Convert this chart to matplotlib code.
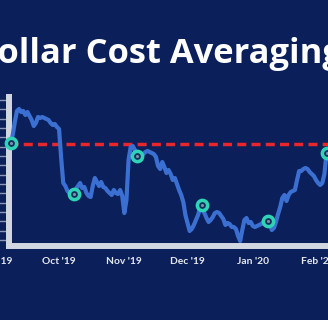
import numpy as np
import matplotlib
matplotlib.use("Agg")
import matplotlib.pyplot as plt
import matplotlib.transforms as mtransforms

# days counted from 1 Sep 2019
days = [7, 8, 9, 10, 11, 12, 13, 14, 15, 16, 17, 18, 19, 20, 21, 22, 23, 24, 25, 26,
        27, 28, 29, 30, 31, 32, 33, 34, 35, 36, 37, 38, 39, 40, 41, 42, 43, 44, 45, 46,
        47, 48, 49, 50, 51, 52, 53, 54, 55, 56, 57, 58, 59, 60, 61, 62, 63, 64, 65, 66,
        67, 68, 69, 70, 71, 72, 73, 74, 75, 76, 77, 78, 79, 80, 81, 82, 83, 84, 85, 86,
        87, 88, 89, 90, 91, 92, 93, 94, 95, 96, 97, 98, 99, 100, 101, 102, 103, 104, 105, 106,
        107, 108, 109, 110, 111, 112, 113, 114, 115, 116, 117, 118, 119, 120, 121, 122, 123, 124, 125, 126,
        127, 128, 129, 130, 131, 132, 133, 134, 135, 136, 137, 138, 139, 140, 141, 142, 143, 144, 145, 146,
        147, 148, 149, 150, 151, 152, 153, 154, 155, 156, 157, 158, 159]
price = [40.1, 40.9, 42.2, 43.3, 43.5, 43.2, 43.3, 42.9, 43.2, 42.8, 42.4, 41.8, 42.1, 42.7, 42.6, 42.7, 42.6, 42.5, 42.4, 42.1,
         41.9, 42.0, 41.7, 41.5, 38.6, 36.1, 35.8, 35.3, 35.1, 35.0, 35.0, 35.5, 35.8, 36.1, 35.6, 35.7, 35.1, 34.8, 34.7, 35.8,
         36.6, 36.2, 35.8, 36.2, 35.7, 35.6, 35.3, 35.1, 34.9, 35.4, 35.1, 35.0, 35.4, 34.8, 33.1, 34.4, 38.4, 39.7, 39.8, 39.4,
         38.8, 38.7, 38.9, 39.0, 39.2, 39.3, 39.2, 39.1, 39.0, 38.7, 37.8, 37.5, 38.2, 37.7, 37.1, 37.4, 37.0, 36.4, 36.6, 36.0,
         35.4, 34.9, 34.2, 32.9, 32.1, 31.3, 31.5, 31.9, 32.4, 32.9, 33.6, 33.9, 33.1, 32.6, 32.2, 32.4, 32.7, 33.1, 33.2, 33.1,
         32.8, 32.5, 31.9, 32.1, 32.0, 31.7, 31.7, 31.5, 30.8, 30.3, 31.4, 32.4, 32.6, 32.1, 32.2, 31.8, 31.7, 31.8, 31.9, 32.0,
         32.2, 32.3, 32.3, 32.1, 31.4, 31.6, 32.2, 33.0, 33.7, 34.6, 34.9, 34.3, 34.9, 35.2, 35.3, 35.4, 36.4, 37.3, 37.3, 37.5,
         37.6, 37.5, 37.2, 37.0, 36.8, 36.4, 36.1, 35.9, 36.1, 37.0, 39.1, 39.3, 39.6]

buy_days = [7, 37, 67, 98, 129, 157]
avg_cost = 40.0

month_days = [0, 30, 61, 91, 122, 153]
month_labels = ["Sep '19", "Oct '19", "Nov '19", "Dec '19", "Jan '20", "Feb '20"]

navy = '#0b1f5a'
W, H = 328, 320

fig = plt.figure(figsize=(W / 100, H / 100), dpi=100, facecolor=navy)
ax = fig.add_axes([8.5 / W, (H - 245.5) / H, (W - 8.5) / W, (245.5 - 97) / H])
ax.set_facecolor(navy)

ax.plot(days, price, color='#3b70d2', lw=3.0, solid_joinstyle='round', zorder=3)
ax.axhline(avg_cost, color='#e8262c', lw=2.5, dashes=(2.6, 1.5), zorder=2)

buy_price = [price[days.index(d)] for d in buy_days]
ax.plot(buy_days, buy_price, 'o', ms=7.4, mfc='#123060', mec='#2fd3b6', mew=2.5, zorder=4, clip_on=False)
ax.plot(buy_days, buy_price, 'o', ms=2.2, mfc='#7f93a3', mec='none', zorder=5, clip_on=False)

for s in ['top', 'right']:
    ax.spines[s].set_visible(False)
for s in ['left', 'bottom']:
    ax.spines[s].set_color('#d2d6e0')
    ax.spines[s].set_linewidth(4.3)
    ax.spines[s].set_capstyle('projecting')

ax.set_xticks([])
ax.set_yticks(np.linspace(30.4, 44.4, 16))
ax.set_yticklabels([])
ax.tick_params(axis='y', length=7, width=1, color='#8c97b8', direction='out')

ax.set_xlim(6, 157.7)
ax.set_ylim(29.85, 44.7)

# month labels drawn by hand so the cut-off Sep label still shows
trans = mtransforms.blended_transform_factory(ax.transData, ax.transAxes)
for d, lab in zip(month_days, month_labels):
    ax.text(d, -15.5 / 148.5, lab, transform=trans, ha='center', va='center',
            fontfamily='Lato', fontweight='bold', fontsize=7.4, color='#e6e9f0', clip_on=False)

title = "Dollar Cost Averaging"
r = fig.canvas.get_renderer()
tmp = fig.text(0, 0, "D", fontfamily='Open Sans', fontweight='bold', fontsize=24.8)
wd = tmp.get_window_extent(r).width
tmp.remove()
fig.text((-3 - wd) / W, (H - 63) / H, title, fontfamily='Open Sans', fontweight='bold',
         fontsize=24.8, color='white', ha='left', va='baseline')

fig.savefig('out.png', dpi=100, facecolor=navy)
